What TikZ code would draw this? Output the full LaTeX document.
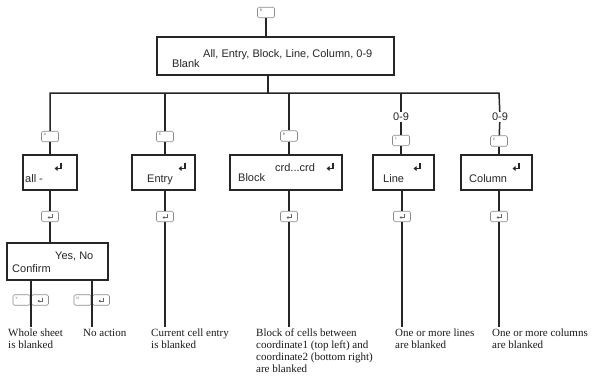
\documentclass[tikz,border=0pt]{standalone}
\usepackage{fontspec}
\setmainfont{Liberation Serif}
\setsansfont{Liberation Sans}
\usetikzlibrary{arrows.meta}
\begin{document}
\begin{tikzpicture}[x=1pt,y=-1pt,
  conn/.style={line width=1.5pt, draw=black!85},
  box/.style={draw=black!85, line width=1.6pt, fill=white, inner sep=0pt},
  keyb/.style={draw=black!45, line width=0.6pt, rounded corners=1.5pt, fill=white, minimum width=17pt, minimum height=10.5pt, inner sep=0pt},
  keylet/.style={font=\sffamily\fontsize{3.5}{3.5}\selectfont, text=black!60, inner sep=0pt, anchor=north west},
  bt/.style={font=\sffamily\fontsize{11}{12}\selectfont, text=black!85, inner sep=0pt, anchor=base west},
  res/.style={font=\rmfamily\fontsize{11}{12}\selectfont, align=left, inner sep=0pt, anchor=north west, text=black!90},
  lab/.style={font=\sffamily\fontsize{11}{12}\selectfont, text=black!85, inner sep=1pt, fill=white},
  bigenter/.pic={\draw[line width=1.4pt, black!85, -{Triangle[length=3pt,width=4.5pt]}] (3,-4.5) -- (3,1.5) -- (-3.5,1.5);},
  smallenter/.pic={\draw[line width=0.7pt, black!60, -{Triangle[length=1.8pt,width=2.6pt]}] (2,-2.5) -- (2,1) -- (-2.5,1);}
]
\useasboundingbox (0,0) rectangle (592,378);

% ---------- boxes ----------
\node[box, minimum width=237pt, minimum height=38pt] (main) at (275.5,56) {};
\node[box, minimum width=54pt, minimum height=35pt] (allbox) at (50,172.5) {};
\node[box, minimum width=63pt, minimum height=35pt] (entrybox) at (163.5,172.5) {};
\node[box, minimum width=112pt, minimum height=35pt] (blockbox) at (286,172.5) {};
\node[box, minimum width=61pt, minimum height=35pt] (linebox) at (403.5,172.5) {};
\node[box, minimum width=71pt, minimum height=35pt] (colbox) at (496.5,172.5) {};
\node[box, minimum width=101pt, minimum height=37pt] (confirm) at (57.5,261.5) {};

% ---------- box texts ----------
\node[bt] (tmain) at (203,57) {All, Entry, Block, Line, Column, 0-9};
\node[bt] (tblank) at (172,67) {Blank};
\node[bt] (tall) at (25,182) {all -};
\pic at (58,167) {bigenter};
\node[bt] (tentry) at (147,182) {Entry};
\pic at (182,167) {bigenter};
\node[bt] (tblock) at (238,181) {Block};
\node[bt] (tcrd) at (275,171) {crd...crd};
\pic at (330,167) {bigenter};
\node[bt] (tline) at (383,182) {Line};
\pic at (417,167) {bigenter};
\node[bt] (tcol) at (469,182) {Column};
\pic at (516,167) {bigenter};
\node[bt] (tyes) at (55,259) {Yes, No};
\node[bt] (tconf) at (12,272) {Confirm};

% ---------- key boxes ----------
\node[keyb] (keyT) at (266,12.5) {};
\node[keylet] (keyT-t) at ([shift={(2.5,2)}]keyT.north west) {B};
\node[keyb] (keyA) at (50,136.5) {};
\node[keylet] (keyA-t) at ([shift={(2.5,2)}]keyA.north west) {A};
\node[keyb] (keyE) at (165,136.5) {};
\node[keylet] (keyE-t) at ([shift={(2.5,2)}]keyE.north west) {E};
\node[keyb] (keyBk) at (289,136) {};
\node[keylet] (keyBk-t) at ([shift={(2.5,2)}]keyBk.north west) {B};
\node[keyb] (keyL) at (401,140.5) {};
\node[keylet] (keyL-t) at ([shift={(2.5,2)}]keyL.north west) {L};
\node[keyb] (keyC) at (499,141) {};
\node[keylet] (keyC-t) at ([shift={(2.5,2)}]keyC.north west) {C};

\node[lab] (l9a) at (401,117) {0-9};
\node[lab] (l9b) at (500,117) {0-9};

\foreach \n/\x in {ekA/50, ekE/165, ekB/289, ekL/402, ekC/499}{
  \node[keyb] (\n) at (\x,216.5) {};
  \pic at (\x,216.5) {smallenter};
}

% confirm keys
\node[keyb] (kY) at (21.5,300) {};
\node[keylet] (kY-t) at ([shift={(2.5,2)}]kY.north west) {Y};
\node[keyb] (kYe) at (40,300) {};
\pic at (40,300) {smallenter};
\node[keyb] (kN) at (82.5,300) {};
\node[keylet] (kN-t) at ([shift={(2.5,2)}]kN.north west) {N};
\node[keyb] (kNe) at (101,300) {};
\pic at (101,300) {smallenter};

% ---------- coordinates ----------
\coordinate (busL) at (50,93);
\coordinate (busR) at (499,93);
\coordinate (mj) at (268,93);
\coordinate (bE) at (165,93);
\coordinate (bB) at (289,93);
\coordinate (bL) at (401,93);
\coordinate (endE) at (165,327);
\coordinate (endB) at (289,327);
\coordinate (endL) at (402,327);
\coordinate (endC) at (499,327);
\coordinate (endY) at (31,327);
\coordinate (endN) at (92,327);

% ---------- connectors ----------
\draw[conn] (keyT) -- (keyT |- main.north);
\draw[conn] (mj |- main.south) -- (mj);
\draw[conn, line join=miter] (keyA) -- (busL) -- (busR) -- (l9b);
% all branch
\draw[conn] (keyA) -- (allbox);
\draw[conn] (allbox) -- (ekA);
\draw[conn] (ekA) -- (ekA |- confirm.north);
\draw[conn] (confirm.south -| endY) -- (endY);
\draw[conn] (confirm.south -| endN) -- (endN);
% entry
\draw[conn] (bE) -- (keyE);
\draw[conn] (keyE) -- (keyE |- entrybox.north);
\draw[conn] (entrybox.south -| ekE) -- (ekE);
\draw[conn] (ekE) -- (endE);
% block
\draw[conn] (bB) -- (keyBk);
\draw[conn] (keyBk) -- (keyBk |- blockbox.north);
\draw[conn] (blockbox.south -| ekB) -- (ekB);
\draw[conn] (ekB) -- (endB);
% line
\draw[conn] (bL) -- (l9a);
\draw[conn] (l9a) -- (keyL);
\draw[conn] (keyL) -- (keyL |- linebox.north);
\draw[conn] (linebox.south -| ekL) -- (ekL);
\draw[conn] (ekL) -- (endL);
% column
\draw[conn] (l9b) -- (keyC);
\draw[conn] (keyC) -- (keyC |- colbox.north);
\draw[conn] (colbox.south -| ekC) -- (ekC);
\draw[conn] (ekC) -- (endC);

% ---------- results ----------
\node[res] (rWhole) at (8,329) {Whole sheet\\is blanked};
\node[res] (rNo) at (83,329) {No action};
\node[res] (rEntry) at (151,329) {Current cell entry\\is blanked};
\node[res] (rBlock) at (256,329) {Block of cells between\\coordinate1 (top left) and\\coordinate2 (bottom right)\\are blanked};
\node[res] (rLine) at (395,329) {One or more lines\\are blanked};
\node[res] (rCol) at (492,329) {One or more columns\\are blanked};
\end{tikzpicture}
\end{document}
